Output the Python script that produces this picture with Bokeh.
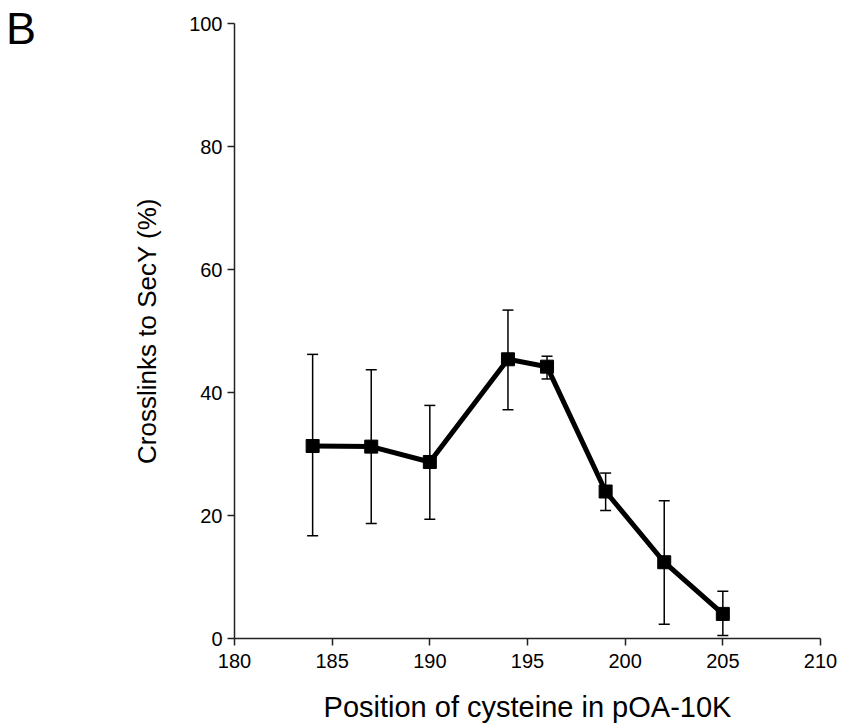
from bokeh.plotting import figure
from bokeh.models import Range1d, ColumnDataSource, Whisker, TeeHead, FixedTicker, Div
from bokeh.layouts import row
from bokeh.embed import file_html
from bokeh.resources import INLINE

positions = [184, 187, 190, 194, 196, 199, 202, 205]
crosslinks = [31.3, 31.2, 28.7, 45.4, 44.2, 23.9, 12.4, 4.0]
err_upper = [46.2, 43.7, 37.9, 53.4, 45.9, 26.9, 22.4, 7.7]
err_lower = [16.7, 18.7, 19.4, 37.2, 42.2, 20.8, 2.3, 0.5]
x_ticks = [180, 185, 190, 195, 200, 205, 210]
y_ticks = [0, 20, 40, 60, 80, 100]

DIV_W = 40
W, H = 844 - DIV_W, 725
src = ColumnDataSource(dict(x=positions, y=crosslinks, upper=err_upper, lower=err_lower))

p = figure(width=W, height=H, output_backend="svg", toolbar_location=None,
           x_range=Range1d(180, 210), y_range=Range1d(0, 100),
           min_border_left=234 - DIV_W, min_border_top=23, min_border_right=24)
p.outline_line_color = None
p.xgrid.visible = False
p.ygrid.visible = False

font = "Liberation Sans"
for ax in (p.xaxis[0], p.yaxis[0]):
    ax.axis_line_width = 1.5
    ax.axis_line_color = "#222222"
    ax.major_tick_line_color = "#222222"
    ax.major_tick_line_width = 1.5
    ax.minor_tick_line_color = None
    ax.major_tick_in = 0
    ax.major_tick_out = 7
    ax.major_label_text_font = font
    ax.major_label_text_font_size = "20px"
    ax.major_label_text_color = "black"
    ax.axis_label_text_font = font
    ax.axis_label_text_font_style = "normal"
    ax.axis_label_text_color = "black"

p.xaxis.axis_label_text_font_size = "29px"
p.yaxis.axis_label_text_font_size = "26px"
p.xaxis.ticker = FixedTicker(ticks=x_ticks)
p.yaxis.ticker = FixedTicker(ticks=y_ticks)
p.xaxis.axis_label = "Position of cysteine in pOA-10K"
p.yaxis.axis_label = "Crosslinks to SecY (%)"
p.xaxis.major_label_standoff = 8
p.yaxis.major_label_standoff = 5
p.xaxis.axis_label_standoff = 20
p.yaxis.axis_label_standoff = 24

w = Whisker(source=src, base="x", upper="upper", lower="lower",
            line_color="black", line_width=1.5, level="underlay",
            upper_head=TeeHead(size=11, line_color="black", line_width=1.5),
            lower_head=TeeHead(size=11, line_color="black", line_width=1.5))
p.add_layout(w)

p.line("x", "y", source=src, line_color="black", line_width=5)
p.scatter("x", "y", source=src, marker="square", size=13, color="black")

# panel letter
letter = Div(text="<div style=\"font-family:'Liberation Sans';font-size:45px;line-height:45px;"
                  "margin:0;padding:6px 0 0 6px;color:black;\">B</div>",
             width=DIV_W, height=60, margin=(0, 0, 0, 0))

layout = row(letter, p, spacing=0)
open("out.html", "w").write(file_html(layout, INLINE))
